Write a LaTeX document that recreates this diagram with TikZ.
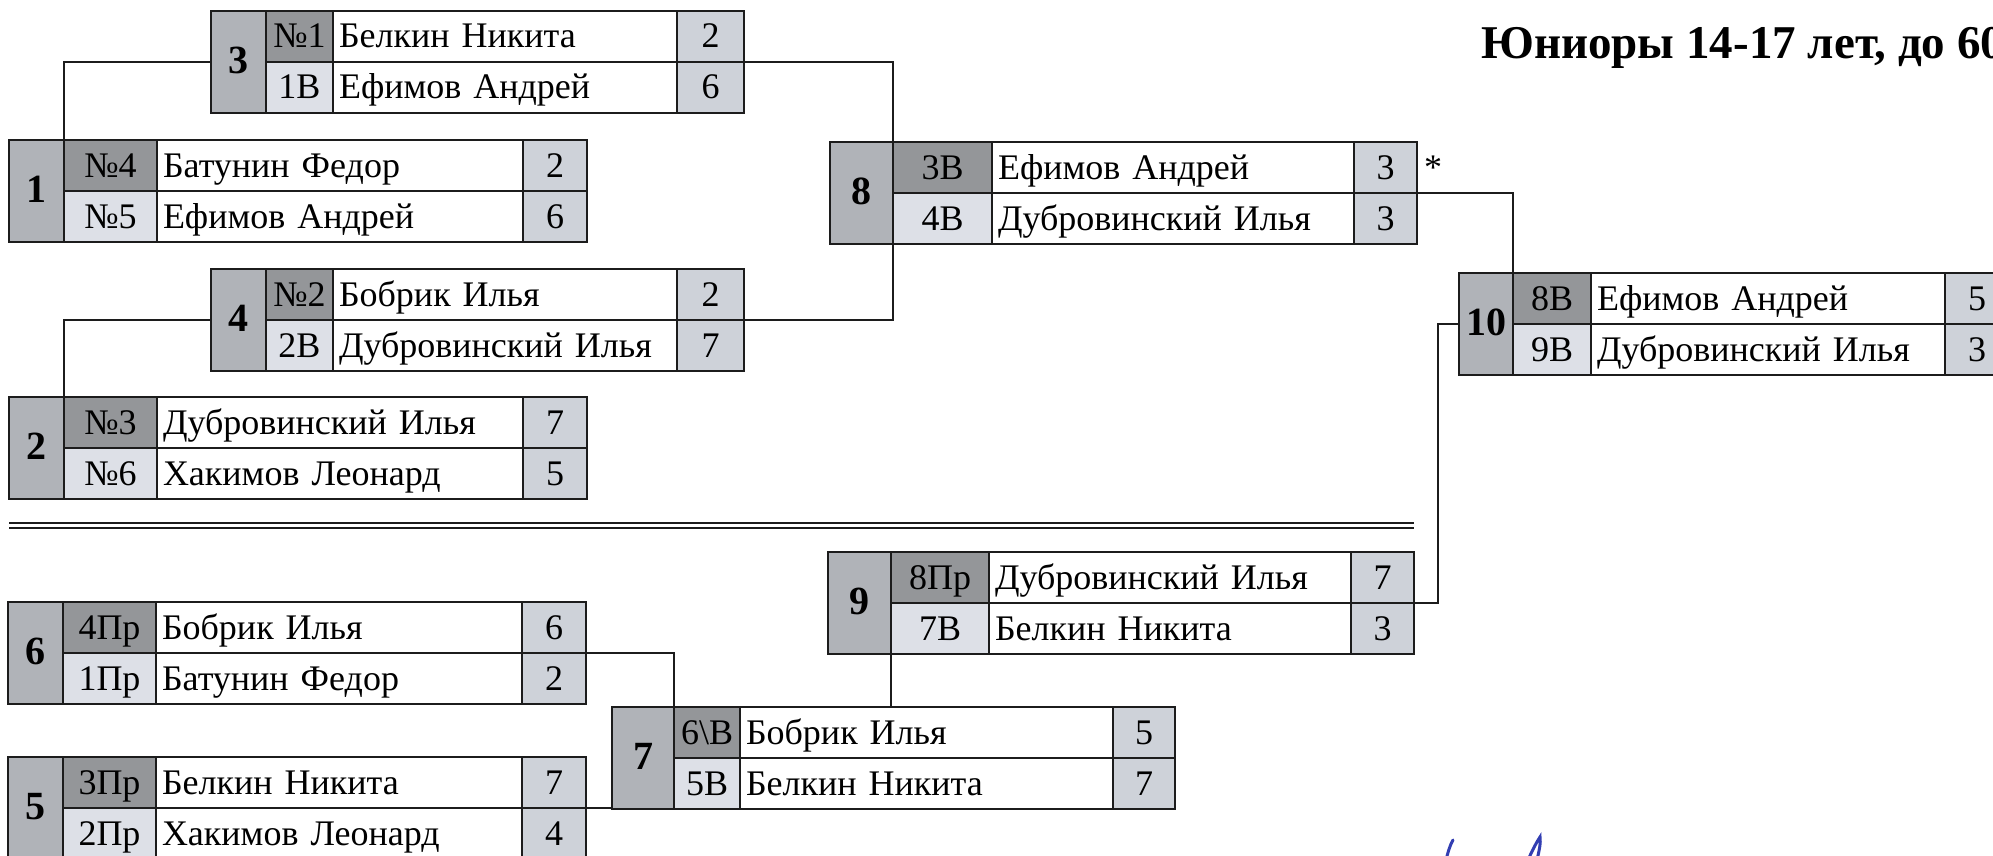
\documentclass[tikz,border=0pt]{standalone}
\usepackage{fontspec}
\setmainfont{Liberation Serif}
\usepackage{tikz}
\usetikzlibrary{positioning}
\definecolor{numfill}{RGB}{176,179,184}
\definecolor{seedtop}{RGB}{148,150,153}
\definecolor{seedbot}{RGB}{221,224,231}
\definecolor{scorefill}{RGB}{206,210,217}
\definecolor{ink}{RGB}{28,28,28}
\definecolor{pen}{RGB}{50,62,178}
\tikzset{
    cell/.style={rectangle,draw=ink,line width=2.5pt,inner sep=0pt,outer sep=0pt,anchor=north west,
        minimum height=51pt,text height=25pt,text depth=2pt,font=\fontsize{36}{40}\selectfont},
    numcell/.style={cell,fill=numfill,minimum height=102pt,font=\bfseries\fontsize{40}{44}\selectfont},
    seed1/.style={cell,fill=seedtop},
    seed2/.style={cell,fill=seedbot},
    namecell/.style={cell,fill=white,inner xsep=6pt,align=left},
    scorecell/.style={cell,fill=scorefill},
    link/.style={draw=ink,line width=2.2pt},
    sepline/.style={draw=ink,line width=2pt},
    note/.style={font=\fontsize{36}{40}\selectfont,inner sep=0pt,anchor=base west},
    title/.style={font=\bfseries\fontsize{47}{52}\selectfont,inner sep=0pt,anchor=base west},
    signature/.style={draw=pen,line width=3pt,line cap=round},
}
\newcommand{\matchbox}[8]{%
    \def\seedw{#5}\pgfmathsetmacro\namew{#6-12}\def\scorew{#7}%
    \node[numcell,minimum width=#4pt] (#1) at (#2,#3) {#8};
}
\newcommand{\player}[6]{%
    \node[seed#2,minimum width=\seedw pt] (#1-s#2) at (#3) {#4};
    \node[namecell,text width=\namew pt] (#1-n#2) at (#1-s#2.north east) {#5};
    \node[scorecell,minimum width=\scorew pt] (#1-c#2) at (#1-n#2.north east) {#6};
}

\begin{document}
\begin{tikzpicture}[x=1pt,y=-1pt]
    \useasboundingbox (0,0) rectangle (1993,856);
    \clip (0,0) rectangle (1993,856);

    \node[title] (title) at (1481,59) {Юниоры 14-17 лет, до 60};

    \matchbox{m3}{211}{11}{55}{67}{344}{67}{3}
    \player{m3}{1}{m3.north east}{№1}{Белкин Никита}{2}
    \player{m3}{2}{m3-s1.south west}{1В}{Ефимов Андрей}{6}

    \matchbox{m1}{9}{140}{55}{93}{366}{64}{1}
    \player{m1}{1}{m1.north east}{№4}{Батунин Федор}{2}
    \player{m1}{2}{m1-s1.south west}{№5}{Ефимов Андрей}{6}

    \matchbox{m8}{830}{142}{63}{99}{362}{63}{8}
    \player{m8}{1}{m8.north east}{3В}{Ефимов Андрей}{3}
    \player{m8}{2}{m8-s1.south west}{4В}{Дубровинский Илья}{3}
    \node[note] (star) at ([xshift=7pt]m8-c1.base east) {*};

    \matchbox{m4}{211}{269}{55}{67}{344}{67}{4}
    \player{m4}{1}{m4.north east}{№2}{Бобрик Илья}{2}
    \player{m4}{2}{m4-s1.south west}{2В}{Дубровинский Илья}{7}

    \matchbox{m2}{9}{397}{55}{93}{366}{64}{2}
    \player{m2}{1}{m2.north east}{№3}{Дубровинский Илья}{7}
    \player{m2}{2}{m2-s1.south west}{№6}{Хакимов Леонард}{5}

    \matchbox{m10}{1459}{273}{54}{78}{354}{64}{10}
    \player{m10}{1}{m10.north east}{8В}{Ефимов Андрей}{5}
    \player{m10}{2}{m10-s1.south west}{9В}{Дубровинский Илья}{3}

    \draw[sepline] (9,523) -- (1414,523);
    \draw[sepline] (9,528) -- (1414,528);

    \matchbox{m9}{828}{552}{63}{98}{362}{63}{9}
    \player{m9}{1}{m9.north east}{8Пр}{Дубровинский Илья}{7}
    \player{m9}{2}{m9-s1.south west}{7В}{Белкин Никита}{3}

    \matchbox{m6}{8}{602}{55}{93}{366}{64}{6}
    \player{m6}{1}{m6.north east}{4Пр}{Бобрик Илья}{6}
    \player{m6}{2}{m6-s1.south west}{1Пр}{Батунин Федор}{2}

    \matchbox{m7}{612}{707}{62}{66}{373}{62}{7}
    \player{m7}{1}{m7.north east}{6\textbackslash В}{Бобрик Илья}{5}
    \player{m7}{2}{m7-s1.south west}{5В}{Белкин Никита}{7}

    \matchbox{m5}{8}{757}{55}{93}{366}{64}{5}
    \player{m5}{1}{m5.north east}{3Пр}{Белкин Никита}{7}
    \player{m5}{2}{m5-s1.south west}{2Пр}{Хакимов Леонард}{4}

    \draw[link] (m1-s1.north west) |- (m3.west);
    \draw[link] (m2-s1.north west) |- (m4.west);
    \draw[link] (m3-c1.south east) -| (m8-s1.north west);
    \draw[link] (m4-c1.south east) -| (m8-s2.south west);
    \draw[link] (m8-c1.south east) -| (m10-s1.north west);
    \draw[link] (m9-c1.south east) -- ++(24,0) |- (m10.west);
    \draw[link] (m6-c1.south east) -| (m7-s1.north west);
    \draw[link] (m5-c1.south east) -- (m5-c1.south east -| m7.west);
    \draw[link] (m9-s2.south west) -- (m9-s2.south west |- m7.north);

    \draw[signature] (1446,860) .. controls (1448,852) and (1450,845) .. (1453,840);
    \draw[signature] (1528,860) .. controls (1532,851) and (1536,843) .. (1540,837) .. controls (1541,843) and (1539,851) .. (1537,860);
\end{tikzpicture}
\end{document}
